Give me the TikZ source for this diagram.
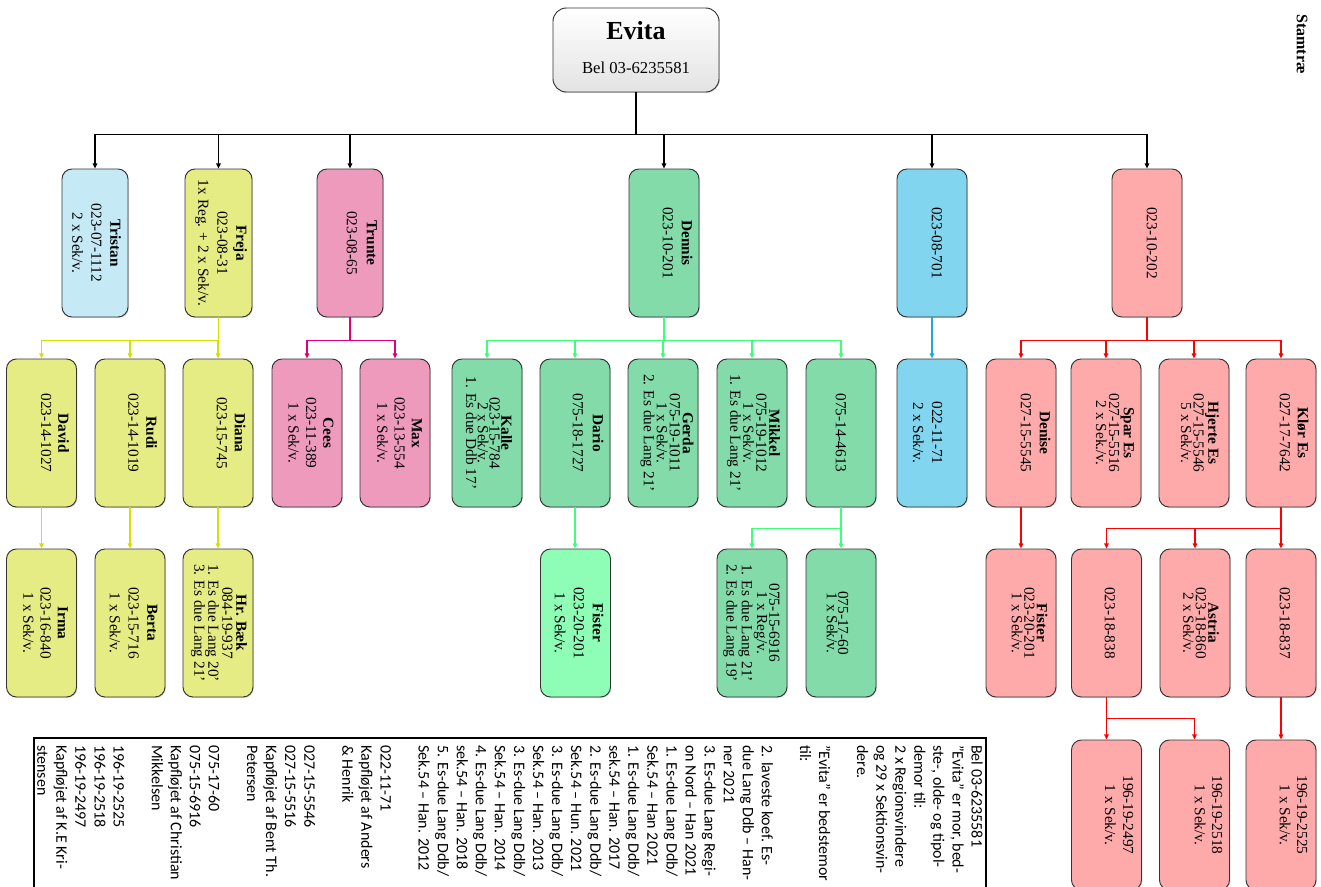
\documentclass[tikz,border=0pt]{standalone}
\usepackage{fontspec}
\setmainfont{Liberation Serif}
\newfontfamily\calibri{Carlito}
\usetikzlibrary{arrows.meta,shadows,calc}
\definecolor{cTri}{HTML}{C5EAF5}
\definecolor{cYel}{HTML}{E5EC84}
\definecolor{cPink}{HTML}{EE9ABD}
\definecolor{cGrn}{HTML}{83DBAA}
\definecolor{cMint}{HTML}{8EFDB6}
\definecolor{cBlu}{HTML}{82D5EE}
\definecolor{cRed}{HTML}{FFAAAA}
\definecolor{lYel}{HTML}{D4E000}
\definecolor{lMag}{HTML}{E2007A}
\definecolor{lGrn}{HTML}{3CFF7A}
\definecolor{lBlu}{HTML}{20A8DA}
\definecolor{lRed}{HTML}{FF0000}
\begin{document}
\begin{tikzpicture}[x=0.75pt,y=-0.75pt,
  pbox/.style={draw=black!80, line width=0.7pt, rounded corners=7.5pt,
    minimum width=52.5pt, minimum height=111pt, inner sep=0pt,
    drop shadow={shadow xshift=0.7pt, shadow yshift=-0.7pt, opacity=0.3}},
  lowbox/.style={pbox, minimum height=112.5pt},
  ptxt/.style={rotate=-90, align=center, inner sep=0pt, font=\fontsize{11.5}{14.25}\selectfont},
  lsp/.style={font=\fontsize{11.5}{#1}\selectfont},
  arr/.style={-{Triangle[length=3.8pt,width=3.4pt]}, line width=0.9pt},
]
\useasboundingbox (0,0) rectangle (1321,886);
\clip (0,0) rectangle (1321,886);

% ---- root
\node[draw=black!80, line width=0.7pt, rounded corners=10pt, minimum width=124.5pt,
  minimum height=63pt, top color=white, bottom color=gray!22,
  drop shadow={shadow xshift=0.7pt, shadow yshift=-0.7pt, opacity=0.3}] (evita) at (636,50) {};
\node[font=\fontsize{19.5}{20}\selectfont\bfseries, inner sep=0pt] (evitaN) at (636,31) {Evita};
\node[font=\fontsize{12.5}{14}\selectfont, inner sep=0pt] (evitaB) at (636,68) {Bel 03-6235581};
\node[rotate=-90, font=\fontsize{12}{12}\selectfont\bfseries, inner sep=0pt] (stamtrae) at (1302,44) {Stamtræ};

% ---- level 1
\node[pbox, fill=cTri, minimum width=49.5pt] (tristan) at (95,243) {};
\node[ptxt] (tristanT) at (96.5,243) {\textbf{Tristan}\\023-07-1112\\2 x Sek/v.};
\node[pbox, fill=cYel, minimum width=50.25pt] (freja) at (218.5,243) {};
\node[ptxt] (frejaT) at (221,243) {\textbf{Freja}\\023-08-31\\1x Reg. + 2 x Sek/v.};
\node[pbox, fill=cPink, minimum width=49.5pt] (trunte) at (350,243) {};
\node[ptxt, lsp=15] (trunteT) at (361.7,243) {\textbf{Trunte}\\023-08-65};
\node[pbox, fill=cGrn] (dennis) at (664,243) {};
\node[ptxt] (dennisT) at (677.5,243) {\textbf{Dennis}\\023-10-201};
\node[pbox, fill=cBlu] (b701) at (932,243) {};
\node[ptxt] (b701T) at (937,243) {023-08-701};
\node[pbox, fill=cRed] (b202) at (1147,243) {};
\node[ptxt] (b202T) at (1152,243) {023-10-202};

% ---- level 2
\node[pbox, fill=cYel] (david) at (41.5,433) {};
\node[ptxt, lsp=13] (davidT) at (55,433) {\textbf{David}\\023-14-1027};
\node[pbox, fill=cYel] (rudi) at (130,433) {};
\node[ptxt, lsp=13.5] (rudiT) at (142.5,433) {\textbf{Rudi}\\023-14-1019};
\node[pbox, fill=cYel] (diana) at (218,433) {};
\node[ptxt, lsp=13.5] (dianaT) at (231,433) {\textbf{Diana}\\023-15-745};
\node[pbox, fill=cPink] (cees) at (307,433) {};
\node[ptxt, lsp=13] (ceesT) at (311,433) {\textbf{Cees}\\023-11-389\\1 x Sek/v.};
\node[pbox, fill=cPink] (max) at (395,433) {};
\node[ptxt, lsp=13] (maxT) at (399.5,433) {\textbf{Max}\\023-13-554\\1 x Sek/v.};
\node[pbox, fill=cGrn] (kalle) at (487,433) {};
\node[ptxt, lsp=8.8] (kalleT) at (489,433) {\textbf{Kalle}\\023-15-784\\2 x Sek/v.\\1. Es due Ddb 17’};
\node[pbox, fill=cGrn] (dario) at (575,433) {};
\node[ptxt, lsp=15] (darioT) at (588,433) {\textbf{Dario}\\075-18-1727};
\node[pbox, fill=cGrn] (gerda) at (663,433) {};
\node[ptxt, lsp=9.75] (gerdaT) at (667,433) {\textbf{Gerda}\\075-19-1011\\1 x Sek/v.\\2. Es due Lang 21’};
\node[pbox, fill=cGrn] (mikkel) at (752,433) {};
\node[ptxt, lsp=9.75] (mikkelT) at (753.5,433) {\textbf{Mikkel}\\075-19-1012\\1 x Sek/v.\\1. Es due Lang 21’};
\node[pbox, fill=cGrn] (g4613) at (841,433) {};
\node[ptxt] (g4613T) at (841,433) {075-14-4613};
\node[pbox, fill=cBlu] (b1171) at (932,433) {};
\node[ptxt] (b1171T) at (927.5,433) {022-11-71\\2 x Sek/v.};
\node[pbox, fill=cRed] (denise) at (1021,433) {};
\node[ptxt] (deniseT) at (1035.5,433) {\textbf{Denise}\\027-15-5545};
\node[pbox, fill=cRed] (spar) at (1106,433) {};
\node[ptxt, lsp=9.75] (sparT) at (1115,433) {\textbf{Spar Es}\\027-15-5516\\2 x Sek./v.};
\node[pbox, fill=cRed] (hjerte) at (1194,433) {};
\node[ptxt, lsp=9.4] (hjerteT) at (1200,433) {\textbf{Hjerte Es}\\027-15-5546\\5 x Sek/v.};
\node[pbox, fill=cRed] (klor) at (1281,433) {};
\node[ptxt, lsp=13.5] (klorT) at (1294,433) {\textbf{Klør Es}\\027-17-7642};

% ---- level 3
\node[pbox, fill=cYel] (irma) at (41.5,623) {};
\node[ptxt, lsp=13] (irmaT) at (45.5,623) {\textbf{Irma}\\023-16-840\\1 x Sek/v.};
\node[pbox, fill=cYel] (berta) at (130,623) {};
\node[ptxt, lsp=14] (bertaT) at (133.5,623) {\textbf{Berta}\\023-15-716\\1 x Sek/v.};
\node[pbox, fill=cYel] (baek) at (218,623) {};
\node[ptxt, lsp=10.5] (baekT) at (219,623) {\textbf{Hr. Bæk}\\084-19-937\\1. Es due Lang 20’\\3. Es due Lang 21’};
\node[pbox, fill=cMint] (fistG) at (575.5,623) {};
\node[ptxt] (fistGT) at (579,623) {\textbf{Fister}\\023-20-201\\1 x Sek/v.};
\node[pbox, fill=cGrn] (g6916) at (752,623) {};
\node[ptxt, lsp=9.2] (g6916T) at (751.5,623) {075-15-6916\\1 x Reg/v.\\1. Es due Lang 21’\\2. Es due Lang 19’};
\node[pbox, fill=cGrn] (g1760) at (841,623) {};
\node[ptxt, lsp=8.5] (g1760T) at (837.5,623) {075-17-60\\1 x Sek/v.};
\node[pbox, fill=cRed] (fistR) at (1021,623) {};
\node[ptxt, lsp=9.4] (fistRT) at (1029.5,623) {\textbf{Fister}\\023-20-201\\1 x Sek/v.};
\node[pbox, fill=cRed] (r838) at (1106.5,623) {};
\node[ptxt] (r838T) at (1110,623) {023-18-838};
\node[pbox, fill=cRed] (astria) at (1195,623) {};
\node[ptxt, lsp=9.4] (astriaT) at (1201,623) {\textbf{Astria}\\023-18-860\\2 x Sek/v.};
\node[pbox, fill=cRed] (r837) at (1281,623) {};
\node[ptxt] (r837T) at (1285,623) {023-18-837};

% ---- level 4
\node[lowbox, fill=cRed] (r2497) at (1106.5,815) {};
\node[ptxt, lsp=13.5] (r2497T) at (1119,815) {196-19-2497\\1 x Sek/v.};
\node[lowbox, fill=cRed] (r2518) at (1194.5,815) {};
\node[ptxt, lsp=13] (r2518T) at (1208.5,815) {196-19-2518\\1 x Sek/v.};
\node[lowbox, fill=cRed] (r2525) at (1281,815) {};
\node[ptxt, lsp=13] (r2525T) at (1293.5,815) {196-19-2525\\1 x Sek/v.};

% ---- connectors
\foreach \c in {tristan,freja,trunte,dennis,b701,b202}
  \draw[arr, black] (evita.south) -- ++(0,42) -| (\c.north);
\foreach \c in {david,rudi,diana}
  \draw[arr, lYel] (freja.south) -- ++(0,23) -| (\c.north);
\foreach \c in {cees,max}
  \draw[arr, lMag] (trunte.south) -- ++(0,23) -| (\c.north);
\foreach \c in {kalle,dario,gerda,mikkel,g4613}
  \draw[arr, lGrn] (dennis.south) -- ++(0,23) -| (\c.north);
\draw[arr, lBlu] (b701.south) -- (b1171.north);
\foreach \c in {denise,spar,hjerte,klor}
  \draw[arr, lRed] (b202.south) -- ++(0,23) -| (\c.north);

\draw[arr, lYel] (david.south) -- (irma.north);
\draw[arr, lYel] (rudi.south) -- (berta.north);
\draw[arr, lYel] (diana.south) -- (diana.south |- baek.north);
\draw[arr, lGrn] (dario.south) -- (dario.south |- fistG.north);
\foreach \c in {g6916,g1760}
  \draw[arr, lGrn] (g4613.south) -- ++(0,21) -| (\c.north);
\draw[arr, lRed] (denise.south) -- (fistR.north);
\foreach \c in {r838,astria,r837}
  \draw[arr, lRed] (klor.south) -- ++(0,21) -| (\c.north);
\foreach \c in {r2497,r2518}
  \draw[arr, lRed] (r838.south) -- ++(0,21) -| (\c.north);
\draw[arr, lRed] (r837.south) -- (r2525.north);

% ---- notes frame
\draw[line width=0.8pt] (34,900) -- (34,738) -- (986,738) -- (986,900);
\node[rotate=-90, anchor=north west, align=left, inner sep=0pt,
  font=\calibri\fontsize{12}{14.3}\selectfont] (notes) at (983,745) {%
Bel 03-6235581\\
”Evita” er mor, bed-\\
ste-, olde- og tipol-\\
demor til:\\
2 x Regionsvindere\\
og 29 x Sektionsvin-\\
dere.\\
\mbox{}\\
”Evita” er bedstemor\\
til:\\
\mbox{}\\
2. laveste koef. Es-\\
due Lang Ddb – Han-\\
ner 2021\\
3. Es-due Lang Regi-\\
on Nord – Han 2021\\
1. Es-due Lang Ddb/\\
Sek.54 – Han 2021\\
1. Es-due Lang Ddb/\\
sek.54 – Han. 2017\\
2. Es-due Lang Ddb/\\
Sek.54 – Hun. 2021\\
3. Es-due Lang Ddb/\\
Sek.54 – Han. 2013\\
3. Es-due Lang Ddb/\\
Sek.54 – Han. 2014\\
4. Es-due Lang Ddb/\\
sek.54 – Han. 2018\\
5. Es-due Lang Ddb/\\
Sek.54 – Han. 2012\\
\mbox{}\\
022-11-71\\
Kapfløjet af Anders\\
\& Henrik\\
\mbox{}\\
027-15-5546\\
027-15-5516\\
Kapfløjet af Bent Th.\\
Petersen\\
\mbox{}\\
075-17-60\\
075-15-6916\\
Kapfløjet af Christian\\
Mikkelsen\\
\mbox{}\\
196-19-2525\\
196-19-2518\\
196-19-2497\\
Kapfløjet af K.E Kri-\\
stensen};
\end{tikzpicture}
\end{document}
